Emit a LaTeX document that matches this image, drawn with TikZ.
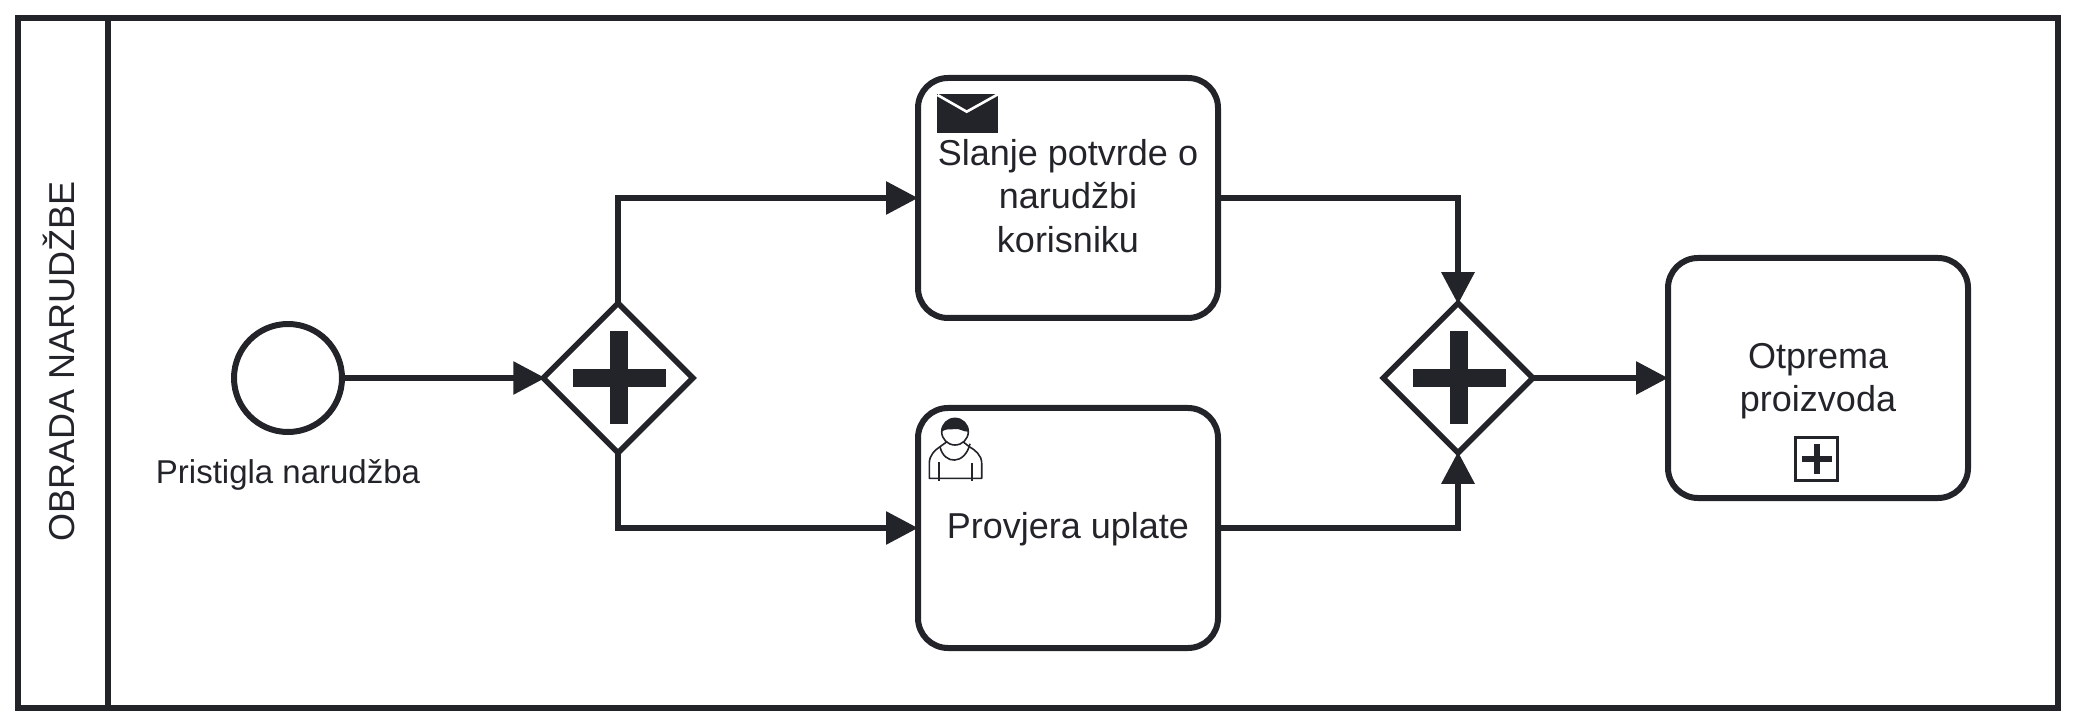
\documentclass[tikz,border=0pt]{standalone}
\usepackage{fontspec}
\setmainfont{Liberation Sans}
\usepackage{tikz}
\usetikzlibrary{arrows.meta, shapes.geometric}
\definecolor{ink}{HTML}{22242A}

\begin{document}
\begin{tikzpicture}[x=1pt,y=1pt,line width=6pt,draw=ink,text=ink,
                    >={Triangle[length=32pt,width=32pt]},shorten >=-3pt,node distance=300pt,
                    font=\fontsize{36pt}{43.2pt}\selectfont]
\tikzset{task/.style={rectangle,draw,rounded corners=30pt,minimum width=300pt,minimum height=240pt,inner sep=0pt}}
\tikzset{tasklabel/.style={align=center,inner sep=0pt}}
\tikzset{event/.style={circle,draw,minimum size=108pt,inner sep=0pt}}
\tikzset{gateway/.style={diamond,draw,line width=5.5pt,minimum size=152pt,inner sep=0pt,
    path picture={
      \fill[ink] ([shift={(-45.5pt,-9pt)}]path picture bounding box.center) rectangle +(93,18);
      \fill[ink] ([shift={(-8pt,-46.5pt)}]path picture bounding box.center) rectangle +(18,93);
    }}}
\tikzset{marker/.style={rectangle,draw,line width=3pt,minimum size=42pt,inner sep=0pt,
    path picture={
      \fill[ink] ([shift={(-15pt,-3pt)}]path picture bounding box.center) rectangle +(30,6);
      \fill[ink] ([shift={(-3pt,-15pt)}]path picture bounding box.center) rectangle +(6,30);
    }}}

        \useasboundingbox (0,0) rectangle (2076,726);

        \node[rectangle,draw,minimum width=2040pt,minimum height=690pt]     (pool) at (1038,363) {};
        \node[rectangle,draw,minimum width=90pt,minimum height=690pt]       (lane) at (63,363) {};
        \node[rotate=90]                                                    (title) at (59,365) {OBRADA NARUDŽBE};

        \node[event]                                                        (start) at (288,348) {};
        \node[font=\fontsize{33pt}{39.6pt}\selectfont,node distance=97pt]   (startlabel) [below of=start] {Pristigla narudžba};

        \node[gateway,node distance=330pt]                                  (split) [right of=start] {};
        \node[task]                                                         (send) at (1068,528) {};
        \node[tasklabel,yshift=2pt]                                         (sendlabel) at (send) {Slanje potvrde o\\narudžbi\\korisniku};
        \node[task]                                                         (check) at (1068,198) {};
        \node[tasklabel,yshift=-1.5pt]                                      (checklabel) at (check) {Provjera uplate};
        \node[gateway,node distance=840pt]                                  (join) [right of=split] {};
        \node[task,node distance=360pt]                                     (ship) [right of=join] {};
        \node[tasklabel,yshift=-3pt]                                        (shiplabel) at (ship) {Otprema\\proizvoda};
        \node[marker,node distance=81pt,xshift=-1.5pt]                      (subplus) [below of=ship] {};

        % envelope
        \begin{scope}[shift={(send.north west)},y=-1pt]
        \fill[ink] (22,19) rectangle (83,58);
        \draw[white,line width=2.6pt] (22.5,20) -- (51.7,36.7) -- (81.7,20);
        \end{scope}

        % user
        \begin{scope}[shift={(check.north west)},y=-1pt,line width=1.6pt,line join=round]
        \draw[fill=white] (14.3,73.3) -- (14.3,58.3) .. controls (14.3,50) and (20,45) .. (25,41.7)
              -- (33,36) -- (47,36) -- (54.3,41.7) .. controls (60,45) and (66.7,50) .. (66.7,58.3)
              -- (66.7,73.3) -- cycle;
        \draw (25,41.7) .. controls (29,60) and (50,60) .. (54.3,41.7);
        \draw (24,57.5) -- (24,73.3);
        \draw (57,58) -- (57,73.3);
        \draw[fill=white] (40,26.7) circle (13.3);
        \fill[ink] (26.7,26.7) arc (180:360:13.3) .. controls (48,27) and (44,23) .. (40,24)
              .. controls (36,25) and (31,23) .. (26.7,26.7) -- cycle;
        \end{scope}

        \draw[->,shorten >=-6pt] (start.east) -- (split.west);
        \draw[->,shorten <=-4pt] (split.north) |- (send.west);
        \draw[->,shorten <=-4pt] (split.south) |- (check.west);
        \draw[->,shorten >=-5pt] (send.east) -| (join.north);
        \draw[->,shorten >=-5pt] (check.east) -| (join.south);
        \draw[->,shorten <=-4pt] (join.east) -- (ship.west);

\end{tikzpicture}
\end{document}
